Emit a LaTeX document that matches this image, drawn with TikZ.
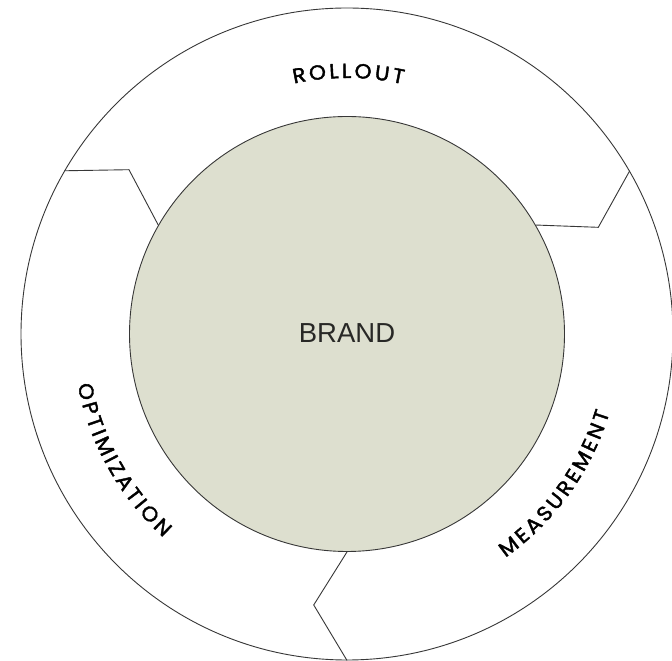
\documentclass[tikz,border=0pt]{standalone}
\usepackage{fontspec}
\setmainfont{Liberation Sans}
\newfontfamily\ringfont[FakeBold=2, FakeStretch=1.05]{Poppins}
\newcommand\ringsize{\fontsize{20.5pt}{20.5pt}\selectfont}
\newcommand\ringtrack{\kern3pt}
\usetikzlibrary{decorations.text}
\definecolor{brandfill}{RGB}{221,223,207}
\definecolor{inkline}{RGB}{55,55,55}
\definecolor{brandtext}{RGB}{40,40,38}
\begin{document}
\begin{tikzpicture}[x=1pt,y=1pt,
  ringline/.style={draw=inkline, line width=0.9pt},
  divider/.style={draw=inkline, line width=0.9pt, line join=miter},
  ringlabel/.style={decorate, decoration={text along path, text align=center,
      text={|\ringfont\ringsize\ringtrack|#1}}}]
\useasboundingbox (0,0) rectangle (672,661);
\coordinate (c) at (347,327);

% outer ring and the brand disc
\node[circle, ringline, fill=white, minimum size=652, inner sep=0] (outer) at (c) {};

% chevron dividers between the three phases
\path (c) ++(143:273) coordinate (n1);
\path (c) ++(23:273) coordinate (n2);
\path (c) ++(263:273) coordinate (n3);

\node[circle, ringline, fill=brandfill, minimum size=435, inner sep=0,
      font=\fontsize{27.5}{27.5}\selectfont, text=brandtext] (brand) at (c) {\raisebox{1pt}{BRAND}};

\draw[divider] (outer.150) -- (n1) -- (brand.150);
\draw[divider] (outer.30) -- (n2) -- (brand.30);
\draw[divider] (outer.270) -- (n3) -- (brand.270);

% phase labels set along the ring
\path[ringlabel=ROLLOUT] (c) ++(125:256) arc[start angle=125, end angle=55, radius=256];
\path[ringlabel=OPTIMIZATION] (c) ++(169:274) arc[start angle=169, end angle=249, radius=274];
\path[ringlabel=MEASUREMENT] (c) ++(284:274) arc[start angle=284, end angle=364, radius=274];
\end{tikzpicture}
\end{document}
